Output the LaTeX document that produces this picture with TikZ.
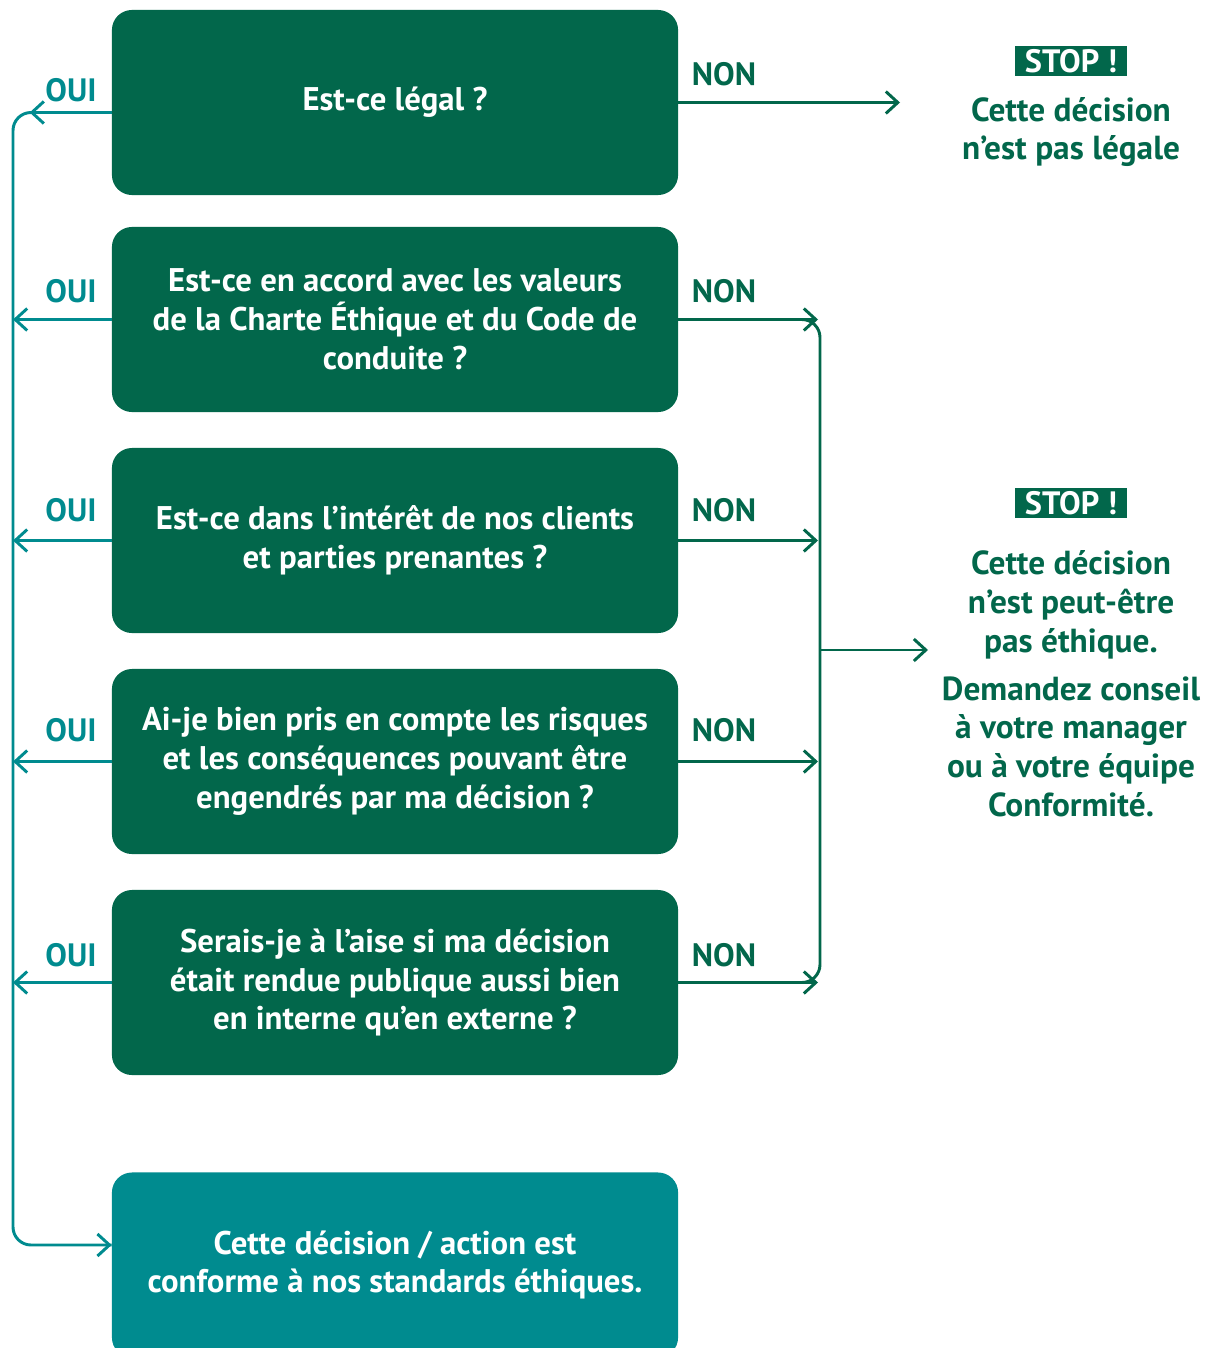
\documentclass[tikz,border=0pt]{standalone}
\usepackage{fontspec}
\setmainfont{PT Sans}
\usepackage{tikz}
\usetikzlibrary{calc,arrows.meta}
\definecolor{deepgreen}{HTML}{02674B}
\definecolor{teal}{HTML}{008B8F}
\tikzset{
  qBox/.style={fill=deepgreen, text=white, rounded corners=0.5cm, minimum width=14.15cm,
    minimum height=4.625cm, align=center, font=\fontsize{23.3}{27.6}\selectfont\bfseries},
  endBox/.style={qBox, fill=teal},
  yesLine/.style={draw=teal, line width=2.1pt},
  noLine/.style={draw=deepgreen, line width=2.1pt},
  yesLab/.style={text=teal, font=\fontsize{23}{26}\selectfont\bfseries},
  noLab/.style={text=deepgreen, font=\fontsize{23}{26}\selectfont\bfseries},
  stopTag/.style={fill=deepgreen, text=white, inner xsep=7pt, inner ysep=2.5pt, font=\fontsize{23}{26}\selectfont\bfseries},
  stopText/.style={text=deepgreen, align=center, font=\fontsize{23.7}{27.6}\selectfont\bfseries},
  >={Straight Barb[length=0.3cm,width=0.55cm]}
}
\begin{document}
\begin{tikzpicture}[x=0.025cm, y=-0.025cm]
  \useasboundingbox (0,0) rectangle (1207,1348);
  \clip (0,0) rectangle (1207,1348);

  % questions
  \node[qBox] (q1) at (395,102.5) {Est-ce légal ?};
  \node[qBox] (q2) at (395,319.5) {Est-ce en accord avec les valeurs\\de la Charte Éthique et du Code de\\conduite ?};
  \node[qBox] (q3) at (395,540.5) {Est-ce dans l’intérêt de nos clients\\et parties prenantes ?};
  \node[qBox] (q4) at (395,761.5) {Ai-je bien pris en compte les risques\\et les conséquences pouvant être\\engendrés par ma décision ?};
  \node[qBox] (q5) at (395,982.5) {Serais-je à l’aise si ma décision\\était rendue publique aussi bien\\en interne qu’en externe ?};
  \node[endBox] (ok) at (395,1265) {Cette décision / action est\\conforme à nos standards éthiques.};

  % stop messages
  \node[stopTag] (stop1) at (1071,61) {STOP !};
  \node[stopText] (msg1) at (1071,132) {Cette décision\\n’est pas légale};
  \node[stopTag] (stop2) at (1071,503) {STOP !};
  \node[stopText] (msg2) at (1071,684) {Cette décision\\n’est peut-être\\pas éthique.\\[0.22cm]Demandez conseil\\à votre manager\\ou à votre équipe\\Conformité.};

  \coordinate (lx) at (13,0);
  \coordinate (rx) at (820,0);
  \coordinate (end1) at (900,102.5);
  \coordinate (split) at (820,650);
  \coordinate (end2) at (928,650);

  % oui side
  \draw[yesLine, rounded corners=0.45cm] ($(q1.west)+(0,10)$) -| ($(lx)+(0,1245)$) -- ($(ok.west)+(0,-20)$);
  \draw[yesLine, ->] ($(q1.west)+(0,10)$) -- ++(-82,0);
  \draw[yesLine, ->] ($(ok.west)+(0,-20)$) ++(-80,0) -- ($(ok.west)+(0,-20)$);
  \foreach \q in {q2,q3,q4,q5}
    \draw[yesLine, ->] (\q.west) -- (\q.west -| lx);

  % non side
  \draw[noLine, ->] (q1.east) -- (end1);
  \draw[noLine, rounded corners=0.45cm] (q2.east) -| (q5.east -| rx) -- (q5.east);
  \foreach \q in {q2,q3,q4,q5}
    \draw[noLine, ->] (\q.east) -- ($(\q.east -| rx)+(-2,0)$);
  \draw[noLine, ->] (split) -- (end2);

  % labels
  \node[yesLab] (oui1) at (71,90) {OUI};
  \node[yesLab] (oui2) at (71,291) {OUI};
  \node[yesLab] (oui3) at (71,510) {OUI};
  \node[yesLab] (oui4) at (71,730) {OUI};
  \node[yesLab] (oui5) at (71,955) {OUI};
  \node[noLab] (non1) at (724,74) {NON};
  \node[noLab] (non2) at (724,291) {NON};
  \node[noLab] (non3) at (724,510) {NON};
  \node[noLab] (non4) at (724,730) {NON};
  \node[noLab] (non5) at (724,955) {NON};
\end{tikzpicture}
\end{document}
